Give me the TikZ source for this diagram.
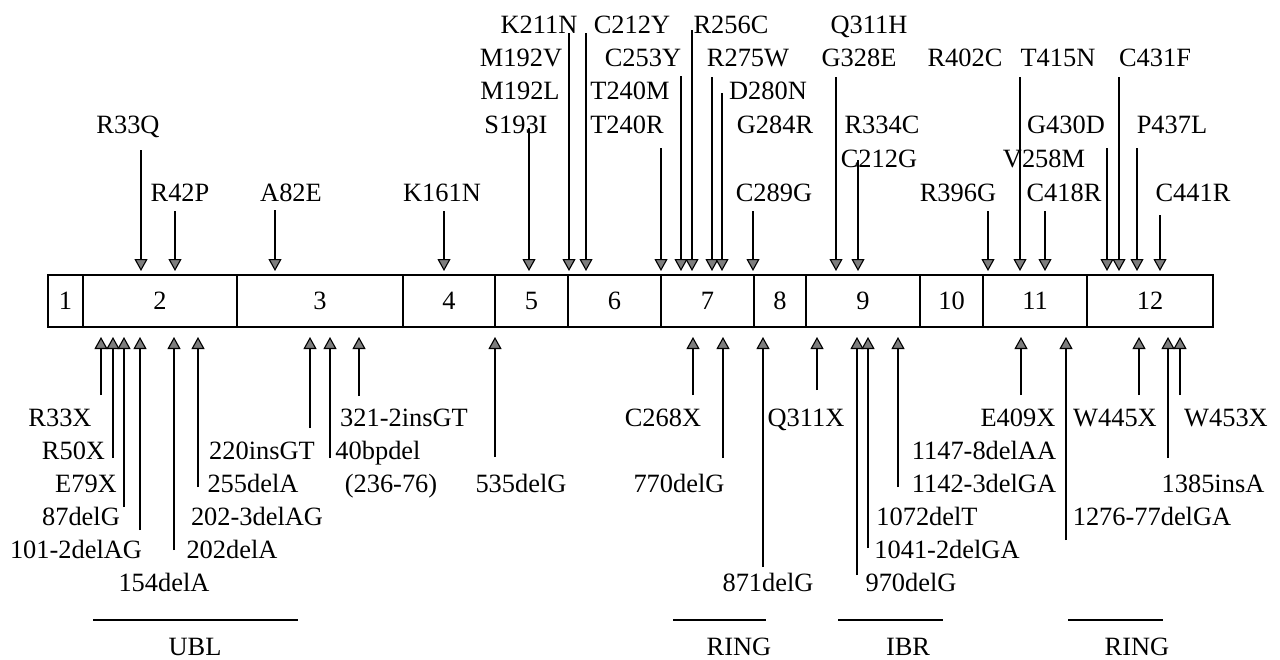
\documentclass[tikz,border=0pt]{standalone}
\usepackage{fontspec}
\setmainfont{Liberation Serif}
\usetikzlibrary{arrows.meta,positioning}
\definecolor{tipGray}{RGB}{125,125,125}
\tikzset{
  exon/.style={draw, line width=0.75pt, minimum height=26pt, inner sep=0pt, outer sep=0pt, font=\fontsize{13.2}{15}\selectfont},
  mut/.style={inner sep=0pt, text height=8.7pt, text depth=0pt, font=\fontsize{13.2}{15}\selectfont},
  hit/.style={-{Triangle[length=6pt, width=6.5pt, fill=tipGray]}, line width=0.55pt},
  domainbar/.style={line width=0.6pt}
}

\begin{document}
\begin{tikzpicture}[x=0.5pt, y=-0.5pt]
  \useasboundingbox (0,0) rectangle (1280,659);
  % exon bar
  \node[exon, minimum width=17.5pt] (e1) at (65.5,301) {1};
  \node[exon, minimum width=77pt, right=0pt of e1] (e2) {2};
  \node[exon, minimum width=83pt, right=0pt of e2] (e3) {3};
  \node[exon, minimum width=46pt, right=0pt of e3] (e4) {4};
  \node[exon, minimum width=36.5pt, right=0pt of e4] (e5) {5};
  \node[exon, minimum width=46.5pt, right=0pt of e5] (e6) {6};
  \node[exon, minimum width=46.5pt, right=0pt of e6] (e7) {7};
  \node[exon, minimum width=26pt, right=0pt of e7] (e8) {8};
  \node[exon, minimum width=57pt, right=0pt of e8] (e9) {9};
  \node[exon, minimum width=31.5pt, right=0pt of e9] (e10) {10};
  \node[exon, minimum width=52pt, right=0pt of e10] (e11) {11};
  \node[exon, minimum width=63pt, right=0pt of e11] (e12) {12};
  \coordinate (toptip) at (0,271);
  \coordinate (bottip) at (0,337);

  % missense changes, above the bar
  \node[mut] (r33q) at (128,125) {R33Q};
  \node[mut] (r42p) at (180,193) {R42P};
  \node[mut] (a82e) at (291,193) {A82E};
  \node[mut] (k161n) at (442,193) {K161N};
  \node[mut] (m192v) at (521,58) {M192V};
  \node[mut] (m192l) at (520,91) {M192L};
  \node[mut] (s193i) at (516,125) {S193I};
  \node[mut] (k211n) at (539,25) {K211N};
  \node[mut] (c212y) at (632,25) {C212Y};
  \node[mut] (t240m) at (630,91) {T240M};
  \node[mut] (t240r) at (627,125) {T240R};
  \node[mut] (c253y) at (643,58) {C253Y};
  \node[mut] (r256c) at (731,25) {R256C};
  \node[mut] (r275w) at (748,58) {R275W};
  \node[mut] (d280n) at (768,91) {D280N};
  \node[mut] (g284r) at (775,125) {G284R};
  \node[mut] (c289g) at (774,193) {C289G};
  \node[mut] (q311h) at (869,25) {Q311H};
  \node[mut] (g328e) at (859,58) {G328E};
  \node[mut] (r334c) at (882,125) {R334C};
  \node[mut] (c212g) at (879,159) {C212G};
  \node[mut] (r396g) at (958,193) {R396G};
  \node[mut] (r402c) at (965,58) {R402C};
  \node[mut] (t415n) at (1058,58) {T415N};
  \node[mut] (v258m) at (1044,159) {V258M};
  \node[mut] (c418r) at (1064,193) {C418R};
  \node[mut] (g430d) at (1066,125) {G430D};
  \node[mut] (c431f) at (1155,58) {C431F};
  \node[mut] (p437l) at (1172,125) {P437L};
  \node[mut] (c441r) at (1193,193) {C441R};
  \foreach \n/\x/\y in {t1/141/150, t2/175/211, t3/275/210, t4/444/211, t5/529/128,
      t6/569/33, t7/586/33, t8/661/148, t9/681/76, t10/692/30, t11/712/77,
      t12/722/93, t13/753/211, t14/836/77, t15/858/160, t16/988/211,
      t17/1020/77, t18/1045/211, t19/1107/148, t20/1119/77, t21/1137/148,
      t22/1160/215}{
    \coordinate (\n) at (\x,\y);
    \draw[hit] (\n) -- (\n |- toptip);
  }

  % truncating changes, below the bar
  \node[mut] (r33x) at (60,418) {R33X};
  \node[mut] (r50x) at (73.5,451) {R50X};
  \node[mut] (e79x) at (86,484) {E79X};
  \node[mut] (d87) at (81,517) {87delG};
  \node[mut] (d101) at (76,550) {101-2delAG};
  \node[mut] (d154) at (164,583) {154delA};
  \node[mut] (i220) at (262,451) {220insGT};
  \node[mut] (d255) at (253,484) {255delA};
  \node[mut] (d202b) at (257,517) {202-3delAG};
  \node[mut] (d202) at (232,550) {202delA};
  \node[mut] (i321) at (404,418) {321-2insGT};
  \node[mut] (d40bp) at (378,451) {40bpdel};
  \node[mut] (d40rng) at (391,484) {(236-76)};
  \node[mut] (d535) at (521,484) {535delG};
  \node[mut] (c268x) at (663,418) {C268X};
  \node[mut] (d770) at (679,484) {770delG};
  \node[mut] (d871) at (768,583) {871delG};
  \node[mut] (q311x) at (806,418) {Q311X};
  \node[mut] (d970) at (911,583) {970delG};
  \node[mut] (d1041) at (947,550) {1041-2delGA};
  \node[mut] (d1072) at (927,517) {1072delT};
  \node[mut] (d1147) at (984,451) {1147-8delAA};
  \node[mut] (d1142) at (984,484) {1142-3delGA};
  \node[mut] (e409x) at (1018,418) {E409X};
  \node[mut] (w445x) at (1115,418) {W445X};
  \node[mut] (w453x) at (1226,418) {W453X};
  \node[mut] (i1385) at (1213,484) {1385insA};
  \node[mut] (d1276) at (1152,517) {1276-77delGA};
  \foreach \n/\x/\y in {b1/101/395, b2/113/458, b3/124/507, b4/140/530, b5/174/550,
      b6/198/487, b7/310/428, b8/330/458, b9/359/396, b10/495/457,
      b11/693/395, b12/723/458, b13/763/567, b14/817/390, b15/857/575,
      b16/868/548, b17/898/487, b18/1021/395, b19/1066/540, b20/1139/395,
      b21/1168/458, b22/1180/395}{
    \coordinate (\n) at (\x,\y);
    \draw[hit] (\n) -- (\n |- bottip);
  }

  % protein domains
  \draw[domainbar] (93,620) -- (298,620);
  \node[mut] (ubl) at (195,647) {UBL};
  \draw[domainbar] (673,620) -- (766,620);
  \node[mut] (ring1) at (739,647) {RING};
  \draw[domainbar] (838,620) -- (943,620);
  \node[mut] (ibr) at (908,647) {IBR};
  \draw[domainbar] (1068,620) -- (1163,620);
  \node[mut] (ring2) at (1137,647) {RING};
\end{tikzpicture}
\end{document}
